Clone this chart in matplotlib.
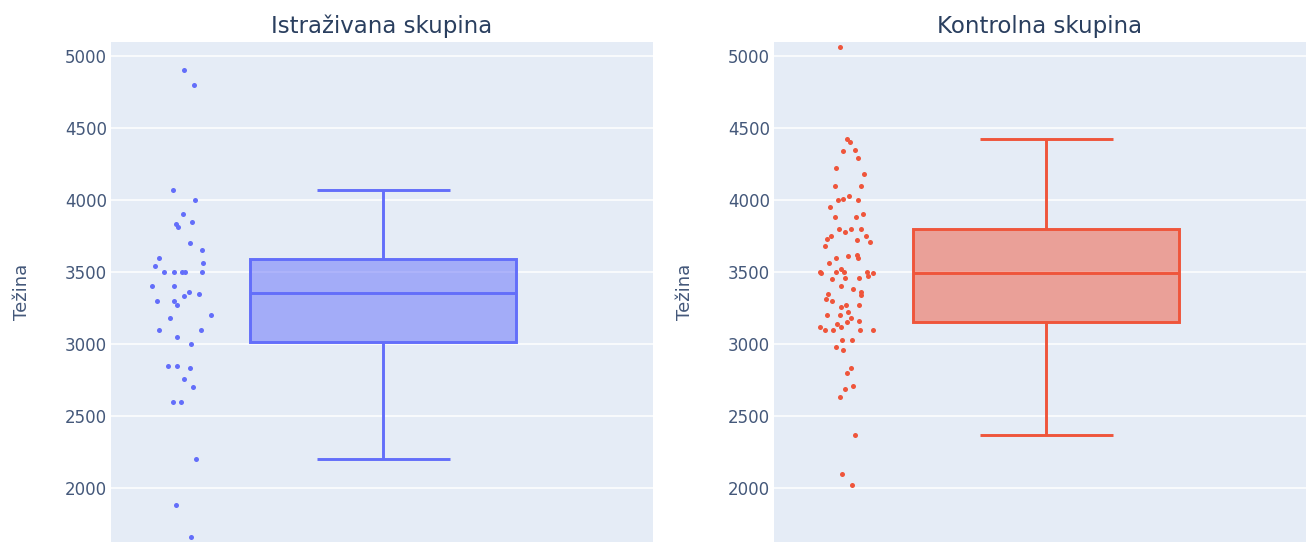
import matplotlib
matplotlib.use("Agg")
import matplotlib.pyplot as plt
from matplotlib.colors import to_rgba

# ---------------- data ----------------
titles = ["Istraživana skupina", "Kontrolna skupina"]
y_label = "Težina"
y_ticks = [2000, 2500, 3000, 3500, 4000, 4500, 5000]

istrazivana = [4900, 4800, 4070, 4000, 3900, 3850, 3830, 3810, 3700, 3650,
               3600, 3540, 3560, 3500, 3500, 3500, 3500, 3500, 3400, 3400,
               3360, 3350, 3330, 3300, 3300, 3270, 3200, 3180, 3100, 3100,
               3050, 3000, 2850, 2850, 2830, 2760, 2700, 2600, 2600, 2200,
               1880, 1660]
istrazivana_jitter = [-0.748, -0.712, -0.789, -0.707, -0.751, -0.718, -0.779, -0.772, -0.724, -0.682,
                      -0.841, -0.856, -0.678, -0.823, -0.787, -0.756, -0.744, -0.682, -0.870, -0.787,
                      -0.729, -0.691, -0.747, -0.849, -0.786, -0.774, -0.645, -0.801, -0.841, -0.683,
                      -0.774, -0.721, -0.809, -0.774, -0.726, -0.747, -0.714, -0.790, -0.759, -0.704,
                      -0.777, -0.722]

kontrolna = [5060, 4420, 4400, 4350, 4340, 4290, 4220, 4180, 4100, 4100,
             4030, 4010, 4000, 4000, 3950, 3900, 3880, 3880, 3800, 3800,
             3800, 3780, 3750, 3750, 3730, 3720, 3710, 3680, 3620, 3610,
             3600, 3600, 3560, 3520, 3500, 3490, 3500, 3500, 3500, 3470,
             3490, 3460, 3460, 3450, 3400, 3380, 3360, 3350, 3340, 3310,
             3300, 3260, 3270, 3270, 3220, 3200, 3200, 3180, 3160, 3150,
             3140, 3120, 3120, 3100, 3100, 3100, 3100, 3030, 3030, 2980,
             2960, 2830, 2800, 2710, 2690, 2630, 2370, 2100, 2020]
kontrolna_jitter = [-0.774, -0.749, -0.736, -0.718, -0.763, -0.708, -0.789, -0.685, -0.794, -0.694,
                    -0.741, -0.762, -0.783, -0.708, -0.811, -0.688, -0.792, -0.715, -0.779, -0.734,
                    -0.697, -0.756, -0.808, -0.676, -0.823, -0.711, -0.662, -0.830, -0.712, -0.745,
                    -0.788, -0.706, -0.816, -0.772, -0.850, -0.847, -0.791, -0.758, -0.673, -0.670,
                    -0.650, -0.757, -0.702, -0.803, -0.772, -0.724, -0.695, -0.820, -0.697, -0.828,
                    -0.805, -0.772, -0.753, -0.703, -0.745, -0.824, -0.773, -0.734, -0.703, -0.748,
                    -0.785, -0.770, -0.848, -0.832, -0.800, -0.700, -0.652, -0.768, -0.729, -0.788,
                    -0.763, -0.733, -0.747, -0.726, -0.755, -0.776, -0.718, -0.767, -0.729]

# ---------------- styling ----------------
plt.rcParams['font.family'] = ['DejaVu Sans']
TEXT = "#2a3f5f"
TICK = "#44587a"
BG = "#E5ECF6"
colors = ["#636EFA", "#EF553B"]

W, H = 1306, 542
fig = plt.figure(figsize=(W / 100, H / 100), dpi=100)

panels = [
    dict(data=istrazivana, jit=istrazivana_jitter, left=111, right=653, center=383, lbl=31),
    dict(data=kontrolna, jit=kontrolna_jitter, left=774, right=1306, center=1046, lbl=694),
]
box_px = 266.0
top_px = 42

for i, p in enumerate(panels):
    ax = fig.add_axes([p["left"] / W, 0, (p["right"] - p["left"]) / W, 1 - top_px / H])
    ax.set_facecolor(BG)
    for s in ax.spines.values():
        s.set_visible(False)
    ax.set_xlim((p["left"] - p["center"]) / box_px, (p["right"] - p["center"]) / box_px)
    ax.set_ylim(1625, 5097)
    ax.set_yticks(y_ticks)
    ax.set_xticks([])
    ax.grid(axis="y", color="white", linewidth=1.1)
    ax.set_axisbelow(True)
    ax.tick_params(axis="y", length=0, pad=3, labelsize=12, labelcolor=TICK)

    c = colors[i]
    bp = ax.boxplot(p["data"], positions=[0], widths=1.0, whis=1.5, showfliers=False,
                    patch_artist=True, manage_ticks=False)
    for b in bp["boxes"]:
        b.set_facecolor(to_rgba(c, 0.5))
        b.set_edgecolor(c)
        b.set_linewidth(2.1)
    for k in ("whiskers", "caps", "medians"):
        for ln in bp[k]:
            ln.set_color(c)
            ln.set_linewidth(2.1)
            ln.set_solid_capstyle("butt")

    ax.scatter(p["jit"], p["data"], s=13, color=c, linewidths=0, zorder=3)

    ax.set_title(titles[i], fontsize=16.5, color=TEXT, pad=6.5)
    ax.set_ylabel(y_label, fontsize=13, color=TICK)
    width_px = p["right"] - p["left"]
    ax.yaxis.set_label_coords((p["lbl"] - p["left"]) / width_px, 0.5)

fig.savefig("out.png", dpi=100, facecolor="white")
